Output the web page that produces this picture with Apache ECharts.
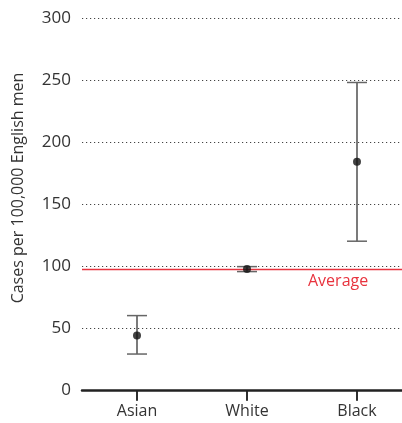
<!DOCTYPE html>
<html>
<head>
<meta charset="utf-8">
<script src="https://cdn.jsdelivr.net/npm/echarts@6/dist/echarts.min.js"></script>
<style>html,body{margin:0;padding:0;background:#fff}#c{width:402px;height:423px}</style>
</head>
<body>
<div id="c"></div>
<script>
const categories = ['Asian', 'White', 'Black'];
const means = [44, 97.5, 184];
const lower = [29, 95.5, 120];
const upper = [60, 99.5, 248];
const averageValue = 97.5;
const yTicks = [0, 50, 100, 150, 200, 250, 300];

const FONT = 'Open Sans';
const chart = echarts.init(document.getElementById('c'), null, {renderer: 'canvas'});
const errData = categories.map((c, i) => [i, lower[i], upper[i]]);

chart.setOption({
  animation: false,
  grid: {left: 82, width: 330, top: 18, bottom: 33, containLabel: false, outerBoundsMode: 'none'},
  xAxis: {
    type: 'category',
    data: categories,
    boundaryGap: true,
    axisLine: {show: true, lineStyle: {color: '#222', width: 2.5}},
    axisTick: {show: true, alignWithLabel: true, inside: false, length: 10, lineStyle: {color: '#222', width: 1.5}},
    axisLabel: {color: '#333', fontSize: 16, fontFamily: FONT, margin: 13},
    splitLine: {show: false}
  },
  yAxis: {
    type: 'value',
    min: yTicks[0],
    max: yTicks[yTicks.length - 1],
    interval: 50,
    name: 'Cases per 100,000 English men',
    nameLocation: 'middle',
    nameGap: 56,
    nameTextStyle: {color: '#333', fontSize: 16, fontFamily: FONT, padding: [0, 0, 0, 32]},
    axisLine: {show: false},
    axisTick: {show: false},
    axisLabel: {color: '#333', fontSize: 17, fontFamily: FONT, margin: 11},
    splitLine: {show: true, lineStyle: {color: '#444', type: [1.2, 2.8], width: 1}}
  },
  series: [
    {
      type: 'custom',
      data: errData,
      z: 3,
      clip: false,
      renderItem: function (params, api) {
        const x = api.value(0);
        const lo = api.coord([x, api.value(1)]);
        const hi = api.coord([x, api.value(2)]);
        const base = api.coord([x, 0]);
        const hw = 10;
        return {
          type: 'group',
          children: [
            {type: 'line', shape: {x1: lo[0], y1: lo[1], x2: hi[0], y2: hi[1]}, style: {stroke: '#333', lineWidth: 1.3}},
            {type: 'line', shape: {x1: lo[0] - hw, y1: lo[1], x2: lo[0] + hw, y2: lo[1]}, style: {stroke: '#666', lineWidth: 1.5}},
            {type: 'line', shape: {x1: hi[0] - hw, y1: hi[1], x2: hi[0] + hw, y2: hi[1]}, style: {stroke: '#666', lineWidth: 1.5}},
            {type: 'line', shape: {x1: base[0], y1: base[1], x2: base[0], y2: base[1] + 11}, style: {stroke: '#222', lineWidth: 1.5}}
          ]
        };
      }
    },
    {
      type: 'scatter',
      data: means,
      symbol: 'circle',
      symbolSize: 8,
      z: 4,
      itemStyle: {color: '#111'},
      markLine: {
        silent: true,
        symbol: 'none',
        z: 2,
        lineStyle: {color: '#e8333e', type: 'solid', width: 1.3},
        label: {show: false},
        data: [{yAxis: averageValue}]
      }
    }
  ],
  graphic: []
});

const p = chart.convertToPixel({xAxisIndex: 0, yAxisIndex: 0}, [2, averageValue]);
chart.setOption({
  graphic: [{
    type: 'text',
    x: p[0] - 49,
    y: p[1] + 4,
    style: {text: 'Average', fill: '#e8333e', fontSize: 16, fontFamily: FONT}
  }]
});
</script>
</body>
</html>
